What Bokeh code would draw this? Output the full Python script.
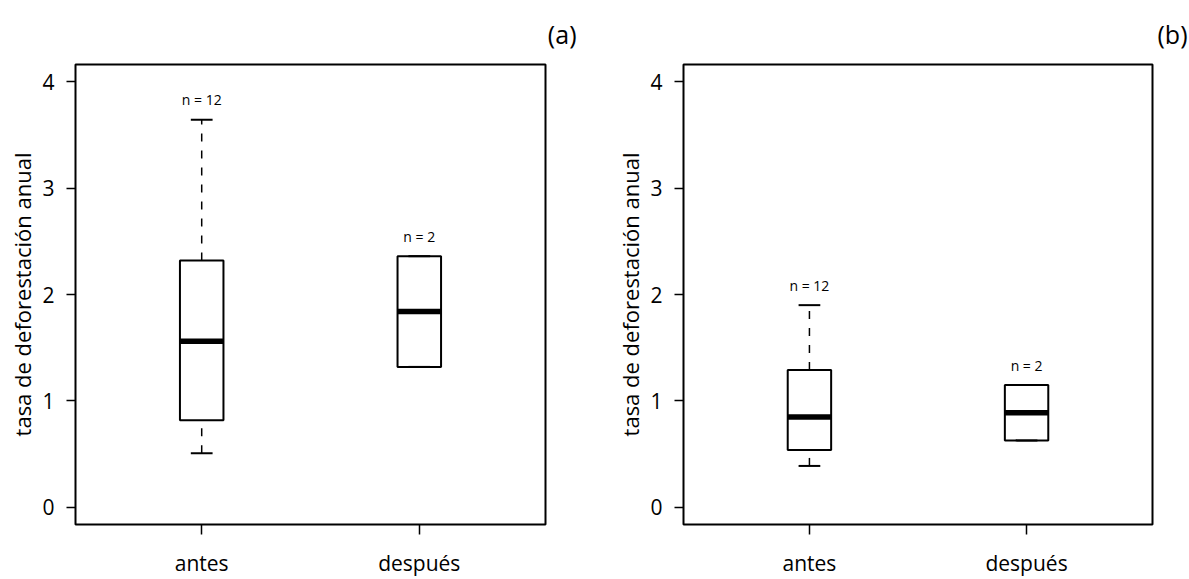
from bokeh.plotting import figure
from bokeh.layouts import row
from bokeh.models import Range1d, FixedTicker, ColumnDataSource, Title
from bokeh.core.properties import value
from bokeh.embed import file_html
from bokeh.resources import INLINE

# ---------------- data ----------------
groups = ["antes", "después"]
panel_tags = ["(a)", "(b)"]
y_title = "tasa de deforestación anual"
y_ticks = [0, 1, 2, 3, 4]

a_lower = [0.51, 1.32]
a_q1 = [0.82, 1.32]
a_median = [1.56, 1.84]
a_q3 = [2.32, 2.36]
a_upper = [3.64, 2.36]
a_n = [12, 2]

b_lower = [0.39, 0.63]
b_q1 = [0.54, 0.63]
b_median = [0.85, 0.89]
b_q3 = [1.29, 1.15]
b_upper = [1.90, 1.15]
b_n = [12, 2]

FONT = "Open Sans"
BOX_W = 0.2
CAP_W = 0.1


def make_panel(tag, lower, q1, med, q3, upper, n, width, bl, br, tag_dx):
    xs = [i + 1 for i in range(len(groups))]
    src = ColumnDataSource(dict(
        x=xs, x0=[x - BOX_W / 2 for x in xs], x1=[x + BOX_W / 2 for x in xs],
        c0=[x - CAP_W / 2 for x in xs], c1=[x + CAP_W / 2 for x in xs],
        lower=lower, q1=q1, med=med, q3=q3, upper=upper,
        lab=["n = %d" % k for k in n],
    ))
    p = figure(width=width, height=579, title=None,
               x_range=Range1d(0.42, 2.58), y_range=Range1d(-0.16, 4.16),
               output_backend="svg", toolbar_location=None,
               min_border_left=bl, min_border_right=br,
               min_border_top=64, min_border_bottom=55)
    p.background_fill_color = "white"
    p.border_fill_color = "white"
    p.outline_line_color = "black"
    p.outline_line_width = 2
    p.xgrid.visible = False
    p.ygrid.visible = False

    # whiskers
    p.segment(x0="x", y0="q3", x1="x", y1="upper", source=src,
              line_color="black", line_width=1.5, line_dash="8 9")
    p.segment(x0="x", y0="lower", x1="x", y1="q1", source=src,
              line_color="black", line_width=1.5, line_dash="8 9")
    # boxes
    p.quad(left="x0", right="x1", bottom="q1", top="q3", source=src,
           fill_color="white", line_color="black", line_width=2)
    # medians
    p.segment(x0="x0", y0="med", x1="x1", y1="med", source=src,
              line_color="black", line_width=5.5)
    # caps
    p.segment(x0="c0", y0="upper", x1="c1", y1="upper", source=src,
              line_color="black", line_width=2)
    p.segment(x0="c0", y0="lower", x1="c1", y1="lower", source=src,
              line_color="black", line_width=2)
    # n labels
    p.text(x="x", y="upper", text="lab", source=src, y_offset=-20,
           text_align="center", text_baseline="middle",
           text_font=value(FONT), text_font_size="14px", text_color="black")

    # axes
    xa = p.xaxis[0]
    xa.ticker = FixedTicker(ticks=xs)
    xa.major_label_overrides = {x: g for x, g in zip(xs, groups)}
    ya = p.yaxis[0]
    ya.ticker = FixedTicker(ticks=y_ticks)
    ya.axis_label = y_title
    for ax in (xa, ya):
        ax.axis_line_color = None
        ax.minor_tick_line_color = None
        ax.major_tick_in = 0
        ax.major_tick_line_color = "black"
        ax.major_tick_line_width = 1.5
        ax.major_label_text_font = FONT
        ax.major_label_text_font_size = "21px"
        ax.major_label_text_color = "black"
        ax.axis_label_text_font = FONT
        ax.axis_label_text_font_size = "22px"
        ax.axis_label_text_font_style = "normal"
        ax.axis_label_text_color = "black"
    xa.major_tick_out = 10
    xa.major_label_standoff = 14
    ya.major_tick_out = 9
    ya.major_label_standoff = 12
    ya.axis_label_standoff = 2

    p.add_layout(Title(text=tag, align="right", offset=tag_dx, standoff=27,
                       text_font=FONT, text_font_size="25px",
                       text_font_style="normal", text_color="black"),
                 "above")
    return p


pa = make_panel(panel_tags[0], a_lower, a_q1, a_median, a_q3, a_upper, a_n,
                600, 75, 55, -31)
pb = make_panel(panel_tags[1], b_lower, b_q1, b_median, b_q3, b_upper, b_n,
                589, 83, 37, -35)

layout = row(pa, pb)
open("out.html", "w").write(file_html(layout, INLINE))
